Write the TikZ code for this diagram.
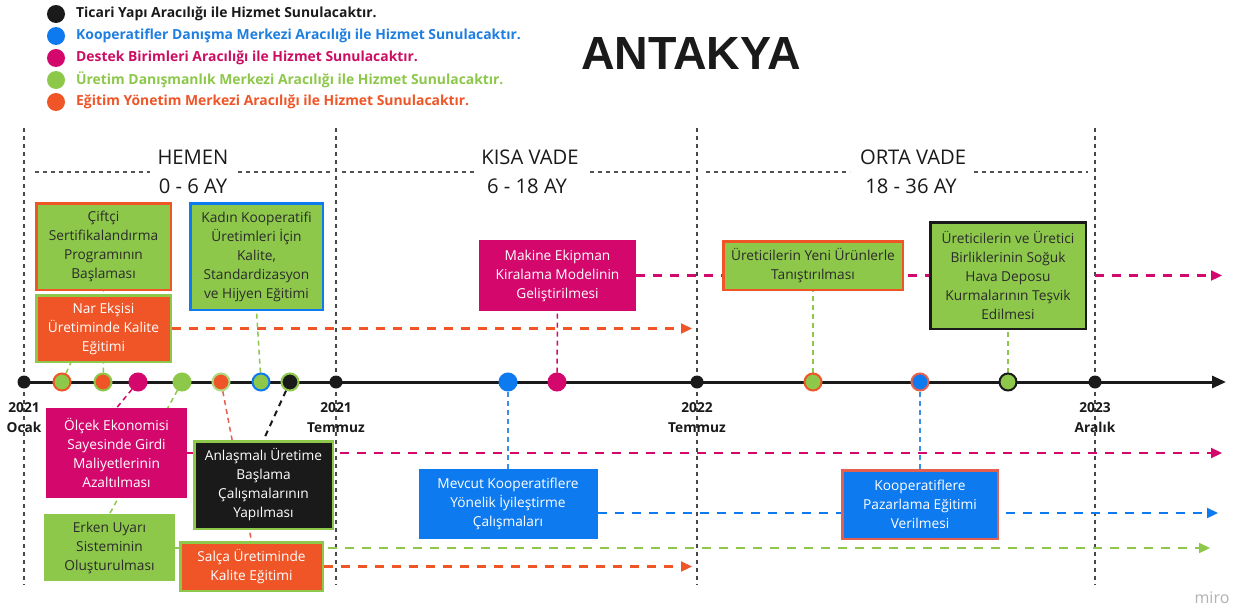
\documentclass[tikz,border=0pt]{standalone}
\usepackage{fontspec}
\setmainfont{Open Sans}
\newfontfamily\titlefont{Liberation Sans}
\usetikzlibrary{arrows.meta}
\pgfdeclarelayer{paper}
\pgfdeclarelayer{bg}
\pgfsetlayers{paper,bg,main}
\definecolor{cG}{HTML}{8DC84B}
\definecolor{cO}{HTML}{EF5527}
\definecolor{cM}{HTML}{D4076C}
\definecolor{cB}{HTML}{0E7AF0}
\definecolor{cK}{HTML}{1A1A1A}
\definecolor{cS}{HTML}{E4604E}
\definecolor{txt}{HTML}{2B2B2B}
\definecolor{lB}{HTML}{1F7FE0}
\definecolor{lM}{HTML}{CC0E63}
\definecolor{lkB}{HTML}{3A8EE6}
\begin{document}
\begin{tikzpicture}[x=1pt,y=-1pt,
 box/.style={rectangle, inner sep=0pt, line width=2.5pt, align=center, font=\fontsize{13.7}{19}\selectfont},
 gbox/.style={box, fill=cG, text=txt},
 wbox/.style={box, text=white},
 dot/.style={circle, inner sep=0pt, minimum size=17pt, line width=2pt},
 ydot/.style={circle, inner sep=0pt, minimum size=13pt, fill=cK},
 lgdot/.style={circle, inner sep=0pt, minimum size=18pt},
 lgtext/.style={anchor=west, inner sep=0pt, font=\fontsize{13.9}{16}\selectfont\bfseries},
 head/.style={inner sep=0pt, font=\fontsize{20.2}{24}\selectfont, text=cK},
 yearlbl/.style={inner sep=0pt, align=center, font=\fontsize{13.7}{20}\selectfont\bfseries, text=cK},
 grid/.style={cK!80, line width=1.3pt, dash pattern=on 4pt off 4pt},
 hline/.style={cK!75, line width=1.2pt, dash pattern=on 4pt off 4pt},
 flow/.style={line width=2.2pt, dash pattern=on 9pt off 8pt, -{Triangle[length=11pt,width=10pt]}},
 link/.style={line width=1.5pt, dash pattern=on 5pt off 4pt},
]
\begin{pgfonlayer}{paper}
\fill[white] (0,0) rectangle (1247,608);
\end{pgfonlayer}
\useasboundingbox (0,0) rectangle (1247,608);

% legend
\node[lgdot, fill=cK] (l1) at (56,14) {};
\node[lgtext, text=cK] (lt1) at (76,14) {Ticari Yapı Aracılığı ile Hizmet Sunulacaktır.};
\node[lgdot, fill=cB] (l2) at (56,36) {};
\node[lgtext, text=lB] (lt2) at (76,36) {Kooperatifler Danışma Merkezi Aracılığı ile Hizmet Sunulacaktır.};
\node[lgdot, fill=cM] (l3) at (56,58) {};
\node[lgtext, text=lM] (lt3) at (76,58) {Destek Birimleri Aracılığı ile Hizmet Sunulacaktır.};
\node[lgdot, fill=cG] (l4) at (56,80) {};
\node[lgtext, text=cG] (lt4) at (76,80) {Üretim Danışmanlık Merkezi Aracılığı ile Hizmet Sunulacaktır.};
\node[lgdot, fill=cO] (l5) at (56,102) {};
\node[lgtext, text=cO] (lt5) at (76,102) {Eğitim Yönetim Merkezi Aracılığı ile Hizmet Sunulacaktır.};

% title
\node[inner sep=0pt, text=cK, font={\titlefont\bfseries\fontsize{46.5}{52}\selectfont}] (title) at (691,54) {ANTAKYA};

% headers
\node[head] (h1) at (193,157) {HEMEN};
\node[head] (h1b) at (193,186) {0 - 6 AY};
\node[head] (h2) at (530,157) {KISA VADE};
\node[head] (h2b) at (527,186) {6 - 18 AY};
\node[head] (h3) at (913,157) {ORTA VADE};
\node[head] (h3b) at (911,186) {18 - 36 AY};
\draw[hline] (35,172) -- (150,172);
\draw[hline] (238,172) -- (330,172);
\draw[hline] (342,172) -- (475,172);
\draw[hline] (590,172) -- (692,172);
\draw[hline] (706,172) -- (850,172);
\draw[hline] (974,172) -- (1088,172);

% timeline dots
\node[ydot] (y0) at (24,382) {};
\node[ydot] (y1) at (336,382) {};
\node[ydot] (y2) at (697,382) {};
\node[ydot] (y3) at (1095,382) {};
\node[dot, fill=cG, draw=cO] (d1) at (62,382) {};
\node[dot, fill=cO, draw=cG] (d2) at (103,382) {};
\node[dot, fill=cM, draw=cM] (d3) at (138,382) {};
\node[dot, fill=cG, draw=cG] (d4) at (182,382) {};
\node[dot, fill=cO, draw=cG!70] (d5) at (221,382) {};
\node[dot, fill=cG, draw=cB] (d6) at (261,382) {};
\node[dot, fill=cK, draw=cG] (d7) at (290,382) {};
\node[dot, fill=cB, draw=cB] (d8) at (508,382) {};
\node[dot, fill=cM, draw=cM] (d9) at (557,382) {};
\node[dot, fill=cG, draw=cO] (d10) at (813,382) {};
\node[dot, fill=cB, draw=cS] (d11) at (920,382) {};
\node[dot, fill=cG, draw=cK] (d12) at (1008,382) {};

% year labels
\node[yearlbl] (yl0) at (24,418) {2021\\Ocak};
\node[yearlbl] (yl1) at (336,418) {2021\\Temmuz};
\node[yearlbl] (yl2) at (697,418) {2022\\Temmuz};
\node[yearlbl] (yl3) at (1095,418) {2023\\Aralık};

% boxes
\node[gbox, draw=cO, minimum width=134.5, minimum height=86.5] (ciftci) at (103.5,246.5) {Çiftçi\\Sertifikalandırma\\Programının\\Başlaması};
\node[wbox, fill=cO, draw=cG, minimum width=134.5, minimum height=66.5] (nar) at (103.5,328.5) {Nar Ekşisi\\Üretiminde Kalite\\Eğitimi};
\node[gbox, draw=cB, minimum width=132.5, minimum height=106.5] (kadin) at (256.5,256.5) {Kadın Kooperatifi\\Üretimleri İçin\\Kalite,\\Standardizasyon\\ve Hijyen Eğitimi};
\node[wbox, fill=cM, draw=cM, minimum width=138.5, minimum height=87.5] (olcek) at (116.5,453) {Ölçek Ekonomisi\\Sayesinde Girdi\\Maliyetlerinin\\Azaltılması};
\node[gbox, draw=cG, minimum width=128.5, minimum height=64.5] (erken) at (109.5,547.5) {Erken Uyarı\\Sisteminin\\Oluşturulması};
\node[wbox, fill=cK, draw=cG, minimum width=138.5, minimum height=87.5] (anl) at (263.5,485) {Anlaşmalı Üretime\\Başlama\\Çalışmalarının\\Yapılması};
\node[wbox, fill=cO, draw=cG, minimum width=142.5, minimum height=48.5] (salca) at (251.5,566.5) {Salça Üretiminde\\Kalite Eğitimi};
\node[wbox, fill=cM, draw=cM, minimum width=154.5, minimum height=68.5] (makine) at (557.5,275.5) {Makine Ekipman\\Kiralama Modelinin\\Geliştirilmesi};
\node[wbox, fill=cB, draw=cB, minimum width=176.5, minimum height=67.5] (mevcut) at (508,504) {Mevcut Kooperatiflere\\Yönelik İyileştirme\\Çalışmaları};
\node[gbox, draw=cO, minimum width=179.5, minimum height=48.5] (yeni) at (813,265.5) {Üreticilerin Yeni Ürünlerle\\Tanıştırılması};
\node[gbox, draw=cK, minimum width=155.5, minimum height=106.5] (soguk) at (1008,275.5) {Üreticilerin ve Üretici\\Birliklerinin Soğuk\\Hava Deposu\\Kurmalarının Teşvik\\Edilmesi};
\node[wbox, fill=cB, draw=cS, minimum width=155.5, minimum height=68.5] (pazar) at (920,504.5) {Kooperatiflere\\Pazarlama Eğitimi\\Verilmesi};

\node[inner sep=0pt, text=black!30, font=\fontsize{16}{18}\selectfont] (miro) at (1212,598) {miro};

\coordinate (gtop) at (0,128);
\coordinate (gbot) at (0,585);
\coordinate (tl) at (1226,382);
\coordinate (t1) at (692,328.5);
\coordinate (t2) at (1222,275.5);
\coordinate (t3) at (1222,453);
\coordinate (t4) at (1218,513);
\coordinate (t5) at (1210,548);
\coordinate (t6) at (692,566.5);

\begin{pgfonlayer}{bg}
\foreach \y in {y0,y1,y2,y3} \draw[grid] (\y |- gtop) -- (\y |- gbot);
\draw[line width=3pt, cK, -{Triangle[length=14pt,width=12pt]}] (y0.center) -- (tl);
% flows
\draw[flow, cO] (nar.east) -- (t1);
\draw[flow, cM] (makine.east) -- (t2);
\draw[flow, cM] (olcek.east) -- (t3);
\draw[flow, cB] (mevcut.east |- t4) -- (t4);
\draw[flow, cG] (erken.east |- t5) -- (t5);
\draw[flow, cO] (salca.east) -- (t6);
% links
\draw[link, cG] (d1) -- (ciftci.south);
\draw[link, cG] (d2) -- (nar.south);
\draw[link, cM] (d3) -- (olcek.north);
\draw[link, cG] (d4) -- (erken.north);
\draw[link, cS] (d5) -- (salca.north);
\draw[link, cG] (d6) -- (kadin.south);
\draw[link, cK, line width=2pt, dash pattern=on 6pt off 5pt] (d7) -- (anl.north);
\draw[link, lkB] (d8) -- (mevcut.north);
\draw[link, cM] (d9) -- (makine.south);
\draw[link, cG] (d10) -- (yeni.south);
\draw[link, lkB] (d11) -- (pazar.north);
\draw[link, cG] (d12) -- (soguk.south);
\end{pgfonlayer}
\end{tikzpicture}
\end{document}
